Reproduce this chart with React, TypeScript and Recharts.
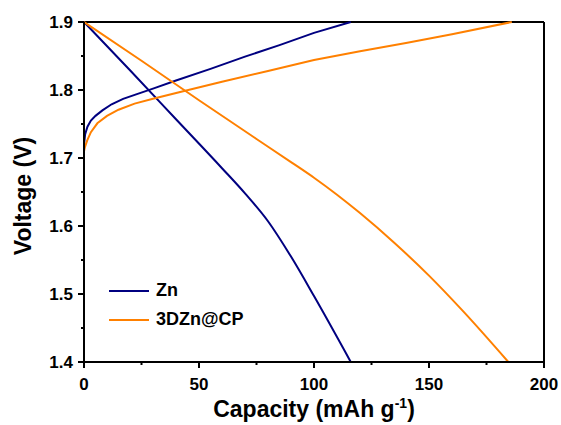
import React from "react";
import {
  LineChart,
  Line,
  XAxis,
  YAxis,
  ReferenceLine,
  Legend,
  Label,
} from "recharts";

// capacity (mAh g-1) / voltage (V)
const znChargeCap = [0, 0, 0, 0.5, 1.5, 3, 5, 8, 12, 17, 23, 30, 40, 55, 70, 85, 100, 116];
const znChargeV = [1.4, 1.6, 1.72, 1.735, 1.746, 1.755, 1.762, 1.77, 1.779, 1.787, 1.794, 1.802, 1.814, 1.831, 1.849, 1.866, 1.884, 1.9];

const znDischargeCap = [0, 20, 40, 60, 70, 80, 90, 100, 116];
const znDischargeV = [1.9, 1.829, 1.757, 1.685, 1.648, 1.607, 1.555, 1.497, 1.4];

const cpChargeCap = [0, 0, 0, 0.4, 1.4, 3, 5.8, 10, 15, 22, 30, 44, 60, 80, 100, 120, 140, 160, 186];
const cpChargeV = [1.4, 1.6, 1.71, 1.716, 1.726, 1.738, 1.751, 1.762, 1.771, 1.78, 1.787, 1.799, 1.812, 1.828, 1.844, 1.857, 1.869, 1.882, 1.9];

const cpDischargeCap = [0, 25, 50, 75, 90, 100, 110, 120, 135, 150, 165, 184.5];
const cpDischargeV = [1.9, 1.843, 1.785, 1.728, 1.694, 1.671, 1.646, 1.619, 1.575, 1.527, 1.474, 1.4];

const xTicks = [0, 25, 50, 75, 100, 125, 150, 175, 200];
const yTicks = [1.4, 1.45, 1.5, 1.55, 1.6, 1.65, 1.7, 1.75, 1.8, 1.85, 1.9];

const seriesNames = ["Zn", "3DZn@CP"];

const ZN = "#000080";
const CP = "#ff8000";
const FONT = "'Liberation Sans', Arial, sans-serif";

const zip = (cap: number[], v: number[]) => cap.map((c, i) => ({ c, v: v[i] }));

const XTick = ({ x, y, payload }: any) => {
  const major = payload.value % 50 === 0;
  return (
    <g>
      <line x1={x} x2={x} y1={y} y2={y + (major ? 6 : 3)} stroke="#000" strokeWidth={2} />
      {major && (
        <text x={x} y={y + 28} textAnchor="middle" fontSize={17} fontWeight="bold" fontFamily={FONT} fill="#000">
          {payload.value}
        </text>
      )}
    </g>
  );
};

const YTick = ({ x, y, payload }: any) => {
  const major = Math.round(payload.value * 100) % 10 === 0;
  return (
    <g>
      <line x1={x - (major ? 6 : 3)} x2={x} y1={y} y2={y} stroke="#000" strokeWidth={2} />
      {major && (
        <text x={x - 11} y={y + 6} textAnchor="end" fontSize={17} fontWeight="bold" fontFamily={FONT} fill="#000">
          {payload.value.toFixed(1)}
        </text>
      )}
    </g>
  );
};

const LegendBox = ({ payload }: any) => {
  const items = seriesNames
    .map((n) => (payload || []).find((p: any) => p.value === n))
    .filter(Boolean);
  return (
    <div style={{ fontFamily: FONT, fontWeight: "bold", fontSize: 18 }}>
      {items.map((p: any) => (
        <div key={p.value} style={{ display: "flex", alignItems: "center", height: 29 }}>
          <div style={{ width: 40, height: 2, background: p.color, marginRight: 7 }} />
          <span>{p.value}</span>
        </div>
      ))}
    </div>
  );
};

export default function App() {
  return (
    <div style={{ position: "absolute", left: 0, top: 0, background: "#fff" }}>
      <LineChart width={561} height={425} margin={{ top: 22, right: 17, left: 24, bottom: 33 }}>
        <XAxis
          type="number"
          dataKey="c"
          domain={[0, 200]}
          ticks={xTicks}
          interval={0}
          tickSize={0}
          tickMargin={0}
          tickLine={false}
          tick={<XTick />}
          height={30}
          axisLine={{ stroke: "#000", strokeWidth: 2 }}
        >
          <Label
            content={() => (
              <text x={314} y={417} textAnchor="middle" fontSize={23} fontWeight="bold" fontFamily={FONT} fill="#000">
                Capacity (mAh g
                <tspan fontSize={14} dy={-9}>-1</tspan>
                <tspan dy={9}>)</tspan>
              </text>
            )}
          />
        </XAxis>
        <YAxis
          type="number"
          dataKey="v"
          domain={[1.4, 1.9]}
          ticks={yTicks}
          interval={0}
          tickSize={0}
          tickMargin={0}
          tickLine={false}
          tick={<YTick />}
          width={60}
          axisLine={{ stroke: "#000", strokeWidth: 2 }}
        >
          <Label
            content={() => (
              <text
                x={31}
                y={196}
                transform="rotate(-90 31 196)"
                textAnchor="middle"
                fontSize={23}
                fontWeight="bold"
                fontFamily={FONT}
                fill="#000"
              >
                Voltage (V)
              </text>
            )}
          />
        </YAxis>
        <ReferenceLine y={1.9} stroke="#000" strokeWidth={2} />
        <ReferenceLine x={200} stroke="#000" strokeWidth={2} />
        <Legend
          layout="vertical"
          verticalAlign="middle"
          align="center"
          content={<LegendBox />}
          wrapperStyle={{ position: "absolute", left: 109, top: 276, width: 200 }}
        />
        <Line data={zip(znChargeCap, znChargeV)} dataKey="v" type="linear" stroke={ZN} strokeWidth={2} dot={false} legendType="none" isAnimationActive={false} />
        <Line data={zip(znDischargeCap, znDischargeV)} dataKey="v" name={seriesNames[0]} type="monotone" stroke={ZN} strokeWidth={2} dot={false} isAnimationActive={false} />
        <Line data={zip(cpChargeCap, cpChargeV)} dataKey="v" type="linear" stroke={CP} strokeWidth={2} dot={false} legendType="none" isAnimationActive={false} />
        <Line data={zip(cpDischargeCap, cpDischargeV)} dataKey="v" name={seriesNames[1]} type="monotone" stroke={CP} strokeWidth={2} dot={false} isAnimationActive={false} />
      </LineChart>
    </div>
  );
}
